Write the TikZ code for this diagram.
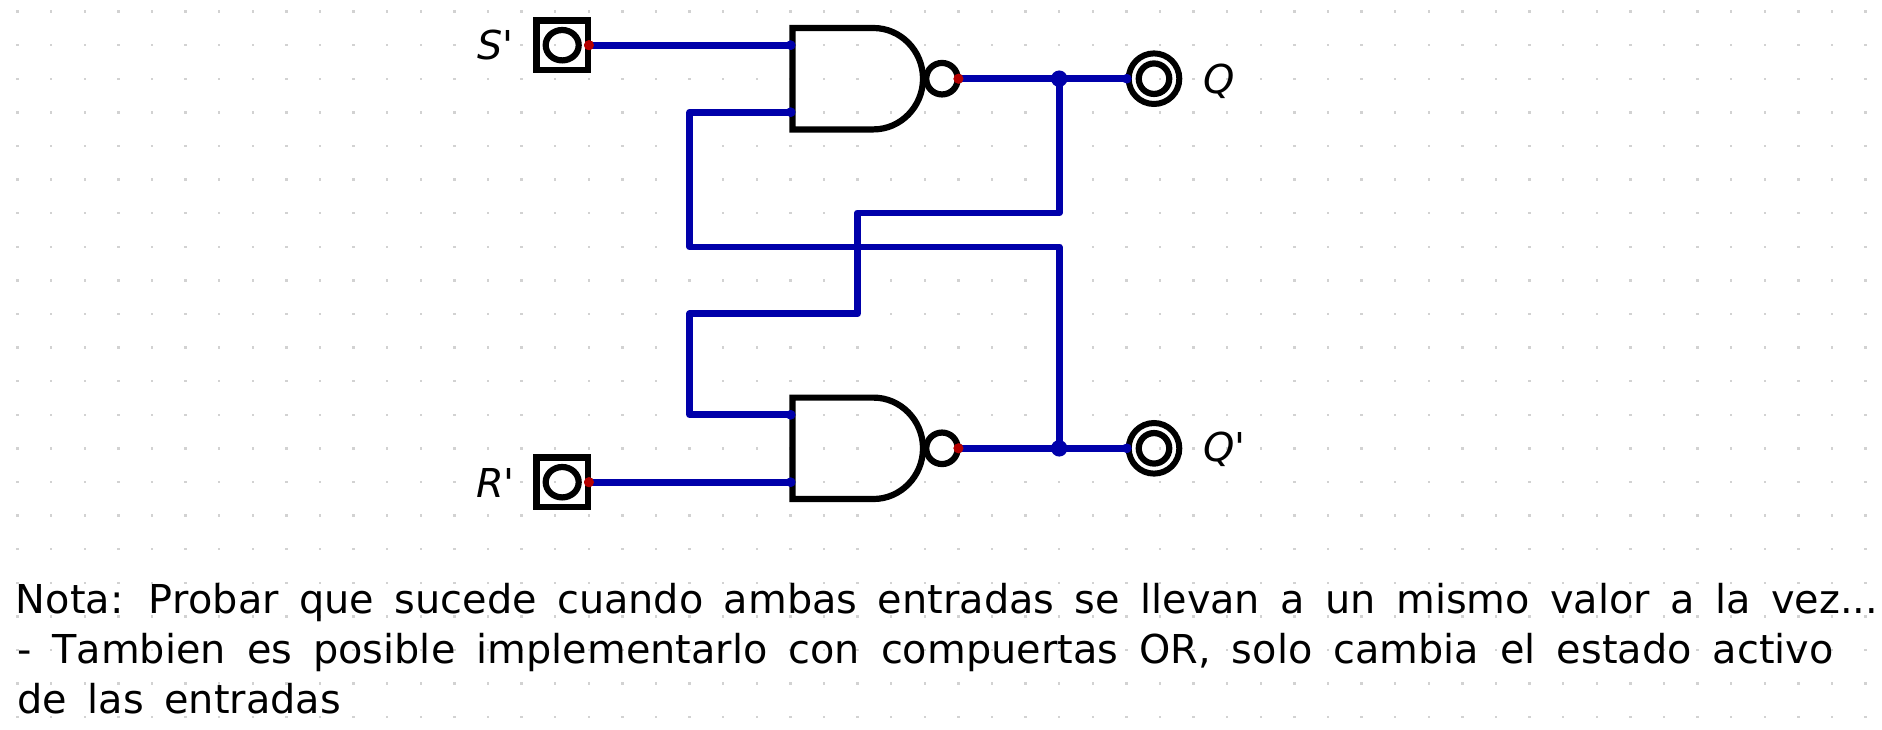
\documentclass[tikz,border=0pt]{standalone}
\usepackage{fontspec}
\setmainfont{DejaVu Sans}[WordSpace=1.613,Kerning=Off]
\newfontfamily\widerfont{DejaVu Sans}[WordSpace=1.665,Kerning=Off]
\newfontfamily\lblfont{DejaVu Sans}
\definecolor{wirecol}{RGB}{0,0,170}
\definecolor{hotcol}{RGB}{180,0,0}
\definecolor{griddot}{RGB}{210,210,210}
\newcommand{\gatebody}[1]{%
  \draw[gatestroke,shift={(#1)}] (81,-50.7) -- (0,-50.7) -- (0,50.7) -- (81,50.7)
    .. controls (108,50.7) and (130.5,28) .. (130.5,0)
    .. controls (130.5,-28) and (108,-50.7) .. (81,-50.7) -- cycle;}
\tikzset{
  gatestroke/.style={draw=black,line width=6.2pt,line join=miter},
  wire/.style={draw=wirecol,line width=6.7pt,line join=round,line cap=round},
  bubble/.style={circle,draw=black,line width=6.2pt,inner sep=0,outer sep=0,minimum size=31.5pt},
  inbox/.style={rectangle,draw=black,line width=6.2pt,inner sep=0,outer sep=0,minimum width=51.2pt,minimum height=49.8pt},
  inring/.style={ellipse,draw=black,line width=6.2pt,inner sep=0,outer sep=0,minimum width=33pt,minimum height=30.4pt},
  outring/.style={circle,draw=black,line width=6.2pt,inner sep=0,outer sep=0,minimum size=30.5pt},
  outer/.style={circle,draw=black,line width=6pt,inner sep=0,outer sep=0,minimum size=50.6pt},
  inpin/.style={circle,fill=wirecol,inner sep=0,outer sep=0,minimum size=9.5pt},
  hotpin/.style={circle,fill=hotcol,inner sep=0,outer sep=0,minimum size=10pt},
  junction/.style={circle,fill=wirecol,inner sep=0,outer sep=0,minimum size=16.5pt},
  lbl/.style={anchor=base west,inner sep=0,outer sep=0,font=\fontsize{39.8}{46}\lblfont},
  note/.style={anchor=base west,inner sep=0,outer sep=0,font=\fontsize{39.8}{50}\selectfont},
  notewide/.style={anchor=base west,inner sep=0,outer sep=0,font=\fontsize{39.8}{50}\widerfont}
}
\usetikzlibrary{shapes.geometric}
\begin{document}
\begin{tikzpicture}[x=1pt,y=-1pt]
\useasboundingbox[fill=white] (0,0) rectangle (1882,729);
% grid of dots
\foreach \i in {0,...,55}{\foreach \j in {0,...,21}{
  \fill[griddot] ({17.5+33.6*\i-1.2},{11.5+33.6*\j-1.2}) rectangle ++(2.4,2.4);}}
% gates
\gatebody{792.5,78.7}
\gatebody{792.5,448.3}
\node[bubble] (b1) at (942,78.7) {};
\node[bubble] (b2) at (942,448.3) {};
% input pins
\node[inbox] (sbox) at (562,45.3) {};
\node[inbox] (rbox) at (562,482.3) {};
\node[inring] (sring) at (562.2,45.2) {};
\node[inring] (rring) at (562.2,482.2) {};
% output pins
\node[outer] (qo) at (1154,78.7) {};
\node[outring] (qi) at (1154,78.7) {};
\node[outer] (qno) at (1154,448.3) {};
\node[outring] (qni) at (1154,448.3) {};
% connection points
\node[hotpin] (sout) at (589,45.2) {};
\node[hotpin] (rout) at (589,482.2) {};
\node[hotpin] (g1out) at (958.5,78.7) {};
\node[hotpin] (g2out) at (958.5,448.3) {};
\node[inpin] (g1a) at (790.7,45.2) {};
\node[inpin] (g1b) at (790.7,112.2) {};
\node[inpin] (g2a) at (790.7,414.8) {};
\node[inpin] (g2b) at (790.7,482.2) {};
\node[inpin] (qin) at (1126.8,78.7) {};
\node[inpin] (qnin) at (1126.8,448.3) {};
\coordinate (ja) at (1059.2,78.7);
\coordinate (jb) at (1059.2,448.3);
\coordinate (c1) at (689.7,112.2);
\coordinate (c2) at (689.7,246.9);
\coordinate (c3) at (1059.2,246.9);
\coordinate (c4) at (1059.2,213);
\coordinate (c5) at (857.5,213);
\coordinate (c6) at (857.5,313.8);
\coordinate (c7) at (689.7,313.8);
\coordinate (c8) at (689.7,414.8);
% wires
\draw[wire] (sout.center) -- (g1a.center);
\draw[wire] (rout.center) -- (g2b.center);
\draw[wire] (g1b.center) -- (c1) -- (c2) -- (c3) -- (jb);
\draw[wire] (ja) -- (c4) -- (c5) -- (c6) -- (c7) -- (c8) -- (g2a.center);
\draw[wire] (g1out.center) -- (qin.center);
\draw[wire] (g2out.center) -- (qnin.center);
% redraw dots above wires
\node[hotpin] at (sout.center) {};
\node[hotpin] at (rout.center) {};
\node[hotpin] at (g1out.center) {};
\node[hotpin] at (g2out.center) {};
\node[inpin] at (g1a.center) {};
\node[inpin] at (g1b.center) {};
\node[inpin] at (g2a.center) {};
\node[inpin] at (g2b.center) {};
\node[inpin] at (qin.center) {};
\node[inpin] at (qnin.center) {};
\node[junction] (j1) at (ja) {};
\node[junction] (j2) at (jb) {};
% labels
\node[lbl] (ls) at (477,59.5) {\itshape S\upshape '};
\node[lbl] (lr) at (476,497.7) {\itshape R\upshape '};
\node[lbl] (lq) at (1203,93) {\itshape Q};
\node[lbl] (lqn) at (1203,461.5) {\itshape Q\upshape '};
% note
\node[note] (n1) at (16,613.2) {Nota: Probar que sucede cuando ambas entradas se llevan a un mismo valor a la vez...};
\node[notewide] (n2) at (17,663.2) {- Tambien es posible implementarlo con compuertas OR, solo cambia el estado activo};
\node[note] (n3) at (17.6,713.2) {de las entradas};
\end{tikzpicture}
\end{document}
